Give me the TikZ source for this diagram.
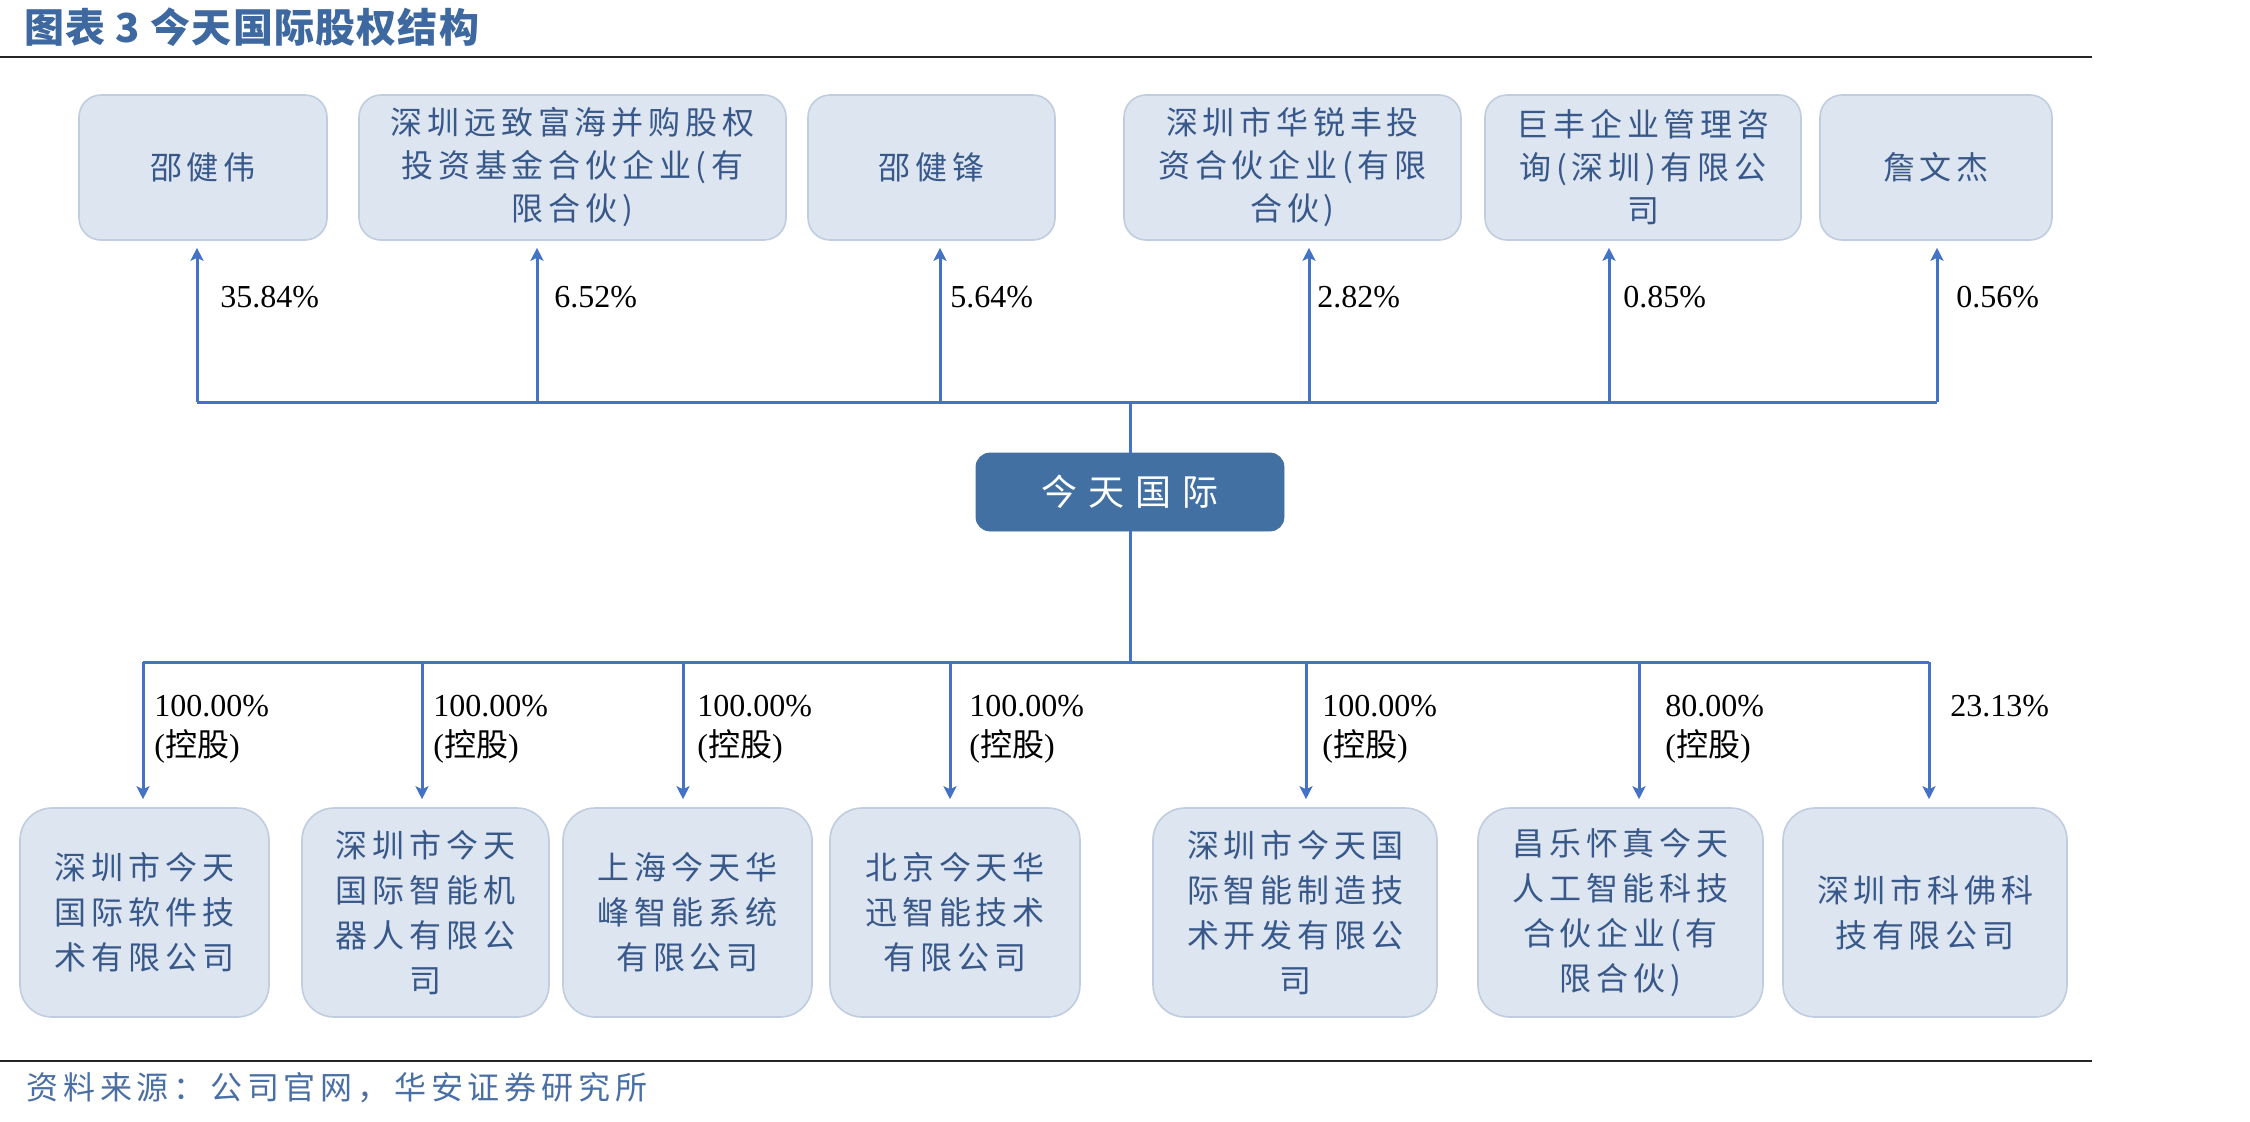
\documentclass[tikz,border=0pt]{standalone}
\usepackage{fontspec}
\setmainfont{Liberation Serif}
\newfontfamily\cjk{Noto Sans CJK SC}[LetterSpace=15]
\newfontfamily\cjkc{Noto Sans CJK SC}[LetterSpace=30]
\newfontfamily\cjkt{Noto Sans CJK SC}[LetterSpace=3]
\newfontfamily\cjkn{Noto Sans CJK SC}
\usetikzlibrary{arrows.meta}
\definecolor{boxfill}{RGB}{220,229,240}
\definecolor{boxdraw}{RGB}{192,205,222}
\definecolor{boxtext}{RGB}{56,88,138}
\definecolor{corefill}{RGB}{67,112,163}
\definecolor{linkblue}{RGB}{68,114,196}
\definecolor{titleblue}{RGB}{62,104,160}
\definecolor{srcblue}{RGB}{74,111,165}
\begin{document}
\begin{tikzpicture}[x=0.5pt,y=-0.5pt,
  ownerbox/.style={draw=boxdraw, line width=0.8pt, fill=boxfill, rounded corners=11pt,
    text=boxtext, font=\cjk\fontsize{16}{21.5}\selectfont, align=center, inner sep=0pt,
    minimum height=72.5pt},
  subbox/.style={draw=boxdraw, line width=0.8pt, fill=boxfill, rounded corners=16pt,
    text=boxtext, font=\cjk\fontsize{16}{22.5}\selectfont, align=center, inner sep=0pt,
    minimum height=104.5pt},
  corebox/.style={draw=corefill, fill=corefill, rounded corners=7pt, text=white,
    font=\cjkc\fontsize{18}{22}\selectfont, minimum width=154pt, minimum height=39pt, inner sep=0pt},
  link/.style={draw=linkblue, line width=1.5pt},
  arr/.style={link, -{Stealth[length=6.5pt,width=6.5pt,inset=1.5pt]}},
  pct/.style={anchor=west, inner sep=0pt, font=\fontsize{16}{19}\selectfont, text=black},
  rulebar/.style={draw=black!85, line width=1.3pt}]
\useasboundingbox (0,0) rectangle (2250,1121);
% title and rules
\node[anchor=west, inner sep=0pt, text=titleblue, font=\cjkt\bfseries\fontsize{20}{24}\selectfont] (title) at (24,27) {图表 3 今天国际股权结构};
\coordinate (r1a) at (0,57); \coordinate (r1b) at (2092,57);
\draw[rulebar] (r1a) -- (r1b);
\coordinate (r2a) at (0,1061); \coordinate (r2b) at (2092,1061);
\draw[rulebar] (r2a) -- (r2b);
\node[anchor=west, inner sep=0pt, text=srcblue, font=\cjk\fontsize{16}{20}\selectfont] (src) at (26,1088) {资料来源：公司官网，华安证券研究所};
% owners
\node[ownerbox, minimum width=124pt] (o1) at (203,167.5) {邵健伟};
\node[ownerbox, minimum width=213.5pt] (o2) at (572.5,167.5) {深圳远致富海并购股权\\投资基金合伙企业(有\\限合伙)};
\node[ownerbox, minimum width=123.5pt] (o3) at (931.5,167.5) {邵健锋};
\node[ownerbox, minimum width=168.5pt] (o4) at (1292.5,167.5) {深圳市华锐丰投\\资合伙企业(有限\\合伙)};
\node[ownerbox, minimum width=158pt] (o5) at (1643,167.5) {巨丰企业管理咨\\询(深圳)有限公\\司};
\node[ownerbox, minimum width=116pt] (o6) at (1936,167.5) {詹文杰};
% core
\node[corebox] (jt) at (1130,492) {今天国际};
% subsidiaries
\node[subbox, minimum width=124.5pt] (s1) at (144.5,912.5) {深圳市今天\\国际软件技\\术有限公司};
\node[subbox, minimum width=123.5pt] (s2) at (425.5,912.5) {深圳市今天\\国际智能机\\器人有限公\\司};
\node[subbox, minimum width=124.5pt] (s3) at (687.5,912.5) {上海今天华\\峰智能系统\\有限公司};
\node[subbox, minimum width=125pt] (s4) at (955,912.5) {北京今天华\\迅智能技术\\有限公司};
\node[subbox, minimum width=142pt] (s5) at (1295,912.5) {深圳市今天国\\际智能制造技\\术开发有限公\\司};
\node[subbox, minimum width=142.5pt] (s6) at (1620.5,912.5) {昌乐怀真今天\\人工智能科技\\合伙企业(有\\限合伙)};
\node[subbox, minimum width=142pt] (s7) at (1925,912.5) {深圳市科佛科\\技有限公司};
% top bus
\coordinate (t1) at (197,402); \coordinate (t2) at (537,402); \coordinate (t3) at (940,402);
\coordinate (t4) at (1309,402); \coordinate (t5) at (1609,402); \coordinate (t6) at (1937,402);
\draw[link] (t1) -- (t6);
\draw[link] (jt.north) -- (jt.north |- t1);
\foreach \i in {1,...,6} {\draw[arr, shorten >=3.5pt] (t\i) -- (t\i |- o\i.south);}
% bottom bus
\coordinate (b1) at (143,662); \coordinate (b2) at (422,662); \coordinate (b3) at (683,662);
\coordinate (b4) at (950,662); \coordinate (b5) at (1306,662); \coordinate (b6) at (1639,662);
\coordinate (b7) at (1929,662);
\draw[link] (b1) -- (b7);
\draw[link] (jt.south) -- (jt.south |- b1);
\foreach \i in {1,...,7} {\draw[arr, shorten >=4pt] (b\i) -- (b\i |- s\i.north);}
% owner percentages
\node[pct] (p1) at (220,297) {35.84\%};
\node[pct] (p2) at (554,297) {6.52\%};
\node[pct] (p3) at (950,297) {5.64\%};
\node[pct] (p4) at (1317,297) {2.82\%};
\node[pct] (p5) at (1623,297) {0.85\%};
\node[pct] (p6) at (1956,297) {0.56\%};
% subsidiary percentages
\node[pct] (q1) at (154,706) {100.00\%};
\node[pct] (q2) at (433,706) {100.00\%};
\node[pct] (q3) at (697,706) {100.00\%};
\node[pct] (q4) at (969,706) {100.00\%};
\node[pct] (q5) at (1322,706) {100.00\%};
\node[pct] (q6) at (1665,706) {80.00\%};
\node[pct] (q7) at (1950,706) {23.13\%};
\node[pct] (c1) at (154,746) {({\cjkn 控股})};
\node[pct] (c2) at (433,746) {({\cjkn 控股})};
\node[pct] (c3) at (697,746) {({\cjkn 控股})};
\node[pct] (c4) at (969,746) {({\cjkn 控股})};
\node[pct] (c5) at (1322,746) {({\cjkn 控股})};
\node[pct] (c6) at (1665,746) {({\cjkn 控股})};
\end{tikzpicture}
\end{document}
